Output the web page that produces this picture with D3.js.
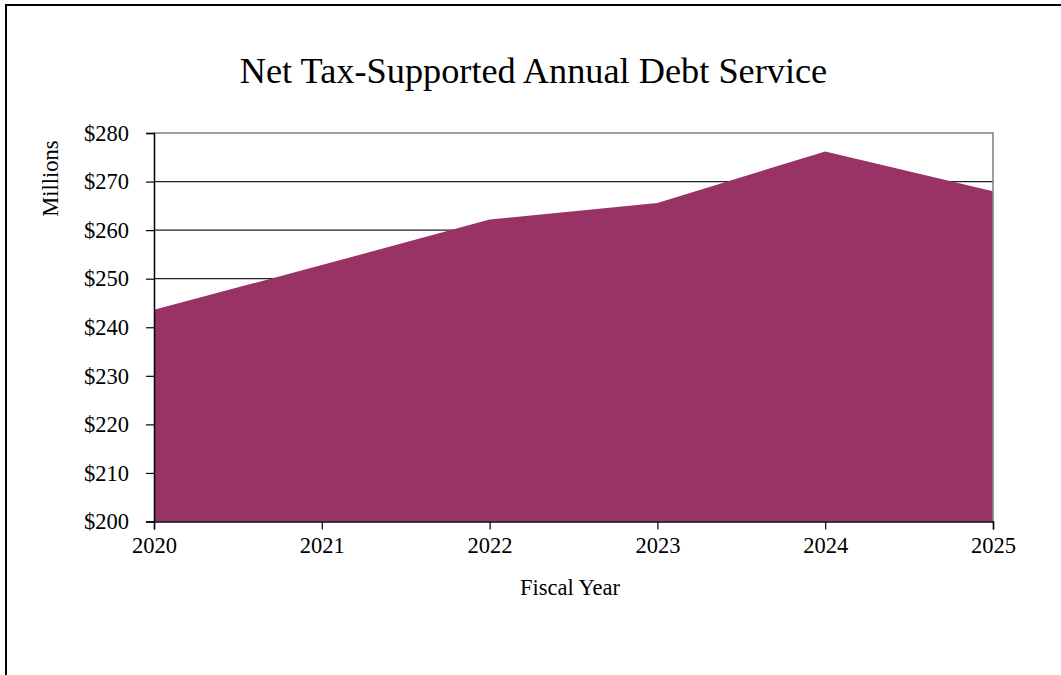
<!DOCTYPE html>
<html>
<head>
<meta charset="utf-8">
<script src="https://cdn.jsdelivr.net/npm/d3@7"></script>
<style>
  html, body { margin: 0; padding: 0; background: #fff; }
  svg { display: block; }
  svg text { font-family: "Liberation Serif", "Times New Roman", Times, "DejaVu Serif", serif !important; fill: #000; }
</style>
</head>
<body>
<svg id="chart" width="1061" height="675"></svg>
<script>
// Net tax-supported annual debt service, $ millions
const years = [2020, 2021, 2022, 2023, 2024, 2025];
const debtService = [243.6, 252.8, 262.2, 265.6, 276.2, 268.0];
const yTicks = [200, 210, 220, 230, 240, 250, 260, 270, 280];

const svg = d3.select("#chart");
const W = 1061, H = 675;
const plot = { left: 154, right: 993, top: 133, bottom: 521.5 };

// outer frame (top and left edges)
svg.append("path")
  .attr("d", `M6,${H} V5 H${W}`)
  .attr("fill", "none").attr("stroke", "#000").attr("stroke-width", 2);

const x = d3.scaleLinear().domain([2020, 2025]).range([plot.left, plot.right]);
const y = d3.scaleLinear().domain([200, 280]).range([plot.bottom, plot.top]);

// horizontal gridlines
svg.append("g").selectAll("line")
  .data(yTicks.filter(t => t > 200 && t < 280))
  .join("line")
  .attr("x1", plot.left).attr("x2", plot.right)
  .attr("y1", d => y(d)).attr("y2", d => y(d))
  .attr("stroke", "#222").attr("stroke-width", 1.2);

// area series
const area = d3.area()
  .x((d, i) => x(years[i]))
  .y0(y(200))
  .y1(d => y(d));
svg.append("path")
  .datum(debtService)
  .attr("d", area)
  .attr("fill", "#993366");

// plot frame top and right edges
svg.append("path")
  .attr("d", `M${plot.left},${plot.top} H${plot.right} V${plot.bottom}`)
  .attr("fill", "none").attr("stroke", "#808080").attr("stroke-width", 1.5);

// y axis
const yAxis = d3.axisLeft(y).tickValues(yTicks).tickSize(8).tickPadding(17)
  .tickFormat(d => "$" + d);
const gy = svg.append("g").attr("transform", `translate(${plot.left},0)`).call(yAxis);
gy.attr("font-family", null).attr("font-size", 22.5);
gy.select(".domain").attr("stroke", "#000").attr("stroke-width", 1.5);
gy.selectAll(".tick line").attr("stroke", "#000").attr("stroke-width", 1.2);
gy.selectAll(".tick text").attr("fill", "#000");

// x axis
const xAxis = d3.axisBottom(x).tickValues(years).tickSize(8).tickPadding(8)
  .tickFormat(d3.format("d"));
const gx = svg.append("g").attr("transform", `translate(0,${plot.bottom})`).call(xAxis);
gx.attr("font-family", null).attr("font-size", 22.5);
gx.select(".domain").attr("stroke", "#000").attr("stroke-width", 1.5);
gx.selectAll(".tick line").attr("stroke", "#000").attr("stroke-width", 1.2);
gx.selectAll(".tick text").attr("fill", "#000");

// titles
svg.append("text")
  .attr("x", 533.5).attr("y", 83)
  .attr("text-anchor", "middle").attr("font-size", 36.3)
  .text("Net Tax-Supported Annual Debt Service");

svg.append("text")
  .attr("x", 570).attr("y", 595)
  .attr("text-anchor", "middle").attr("font-size", 22.5)
  .text("Fiscal Year");

svg.append("text")
  .attr("transform", "translate(58,178.5) rotate(-90)")
  .attr("text-anchor", "middle").attr("font-size", 22.5)
  .text("Millions");
</script>
</body>
</html>
